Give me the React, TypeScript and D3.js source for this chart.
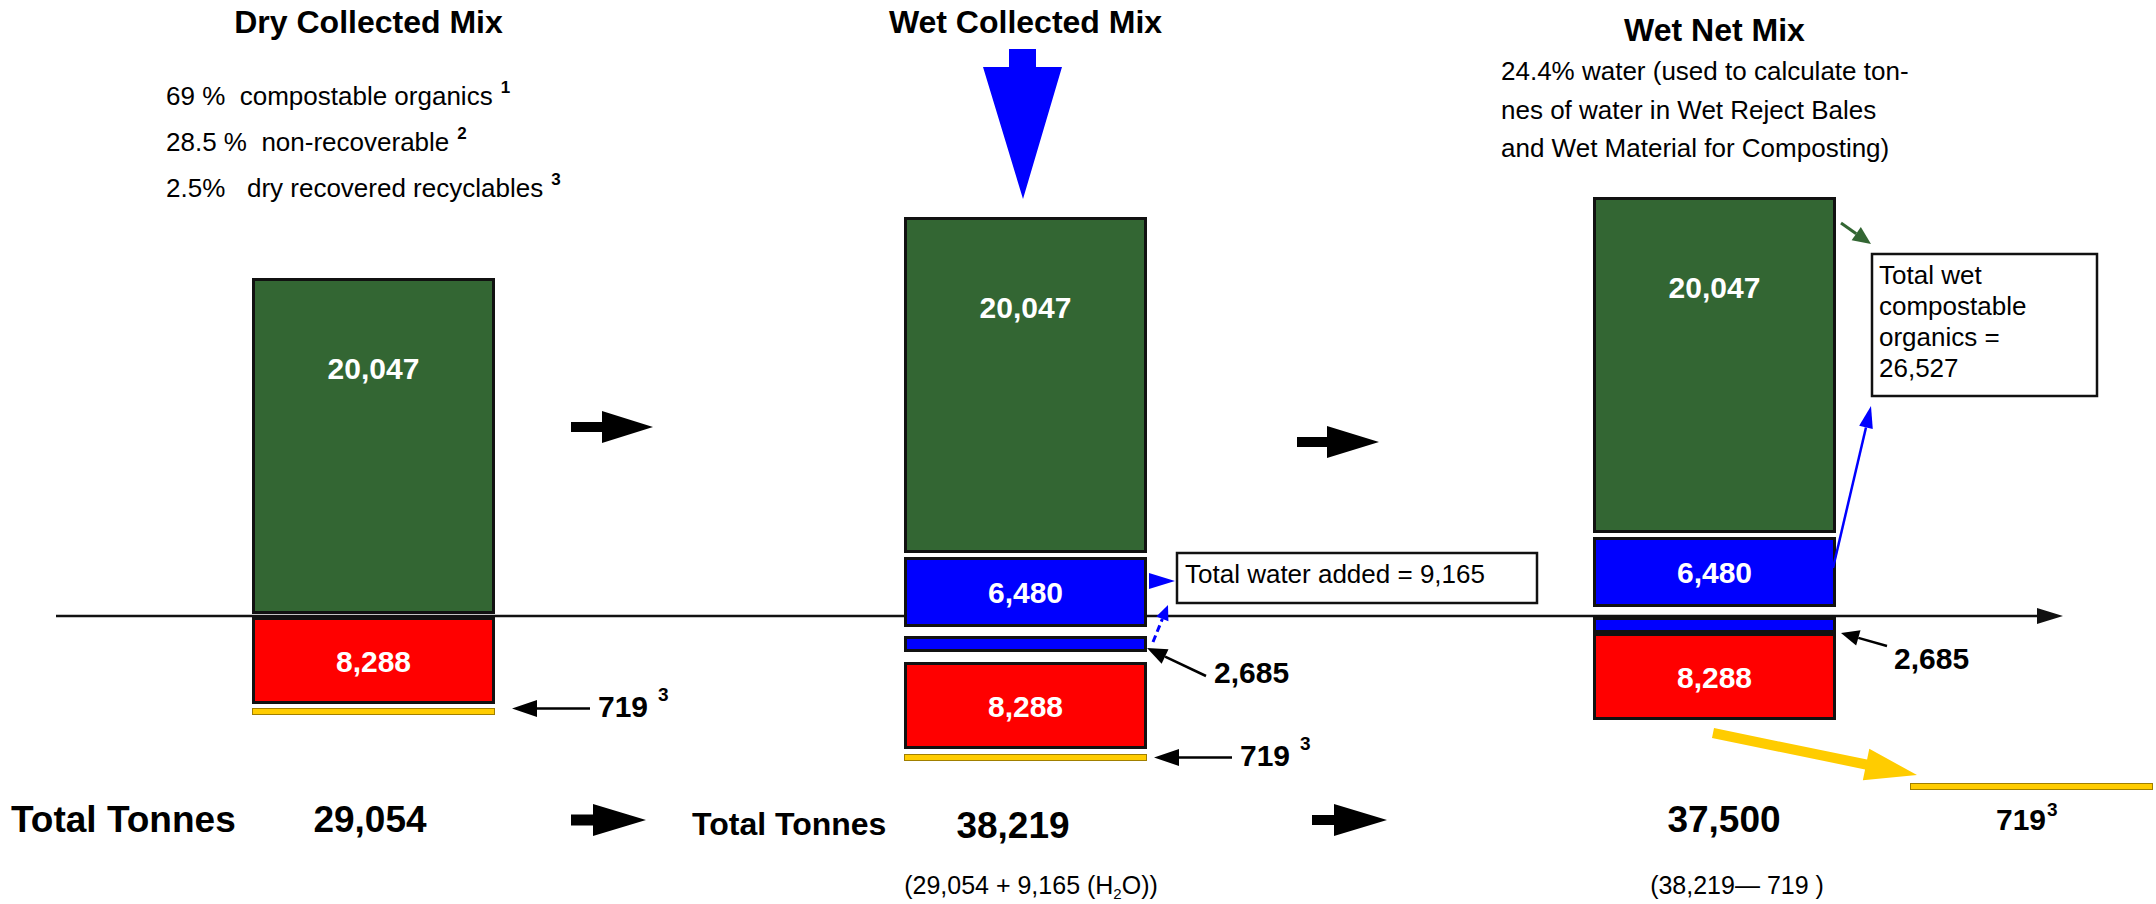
import React from "react";
import * as d3 from "d3";

// ---------- data ----------
const columns = ["Dry Collected Mix", "Wet Collected Mix", "Wet Net Mix"];
const compostable = [20047, 20047, 20047];
const waterAdded = [0, 6480, 6480];
const waterAbsorbed = [0, 2685, 2685];
const nonRecoverable = [8288, 8288, 8288];
const recyclables = [719, 719, 719];
const totals = [29054, 38219, 37500];
const waterTotal = 9165;
const wetCompostTotal = 26527;
const dryShares = [
  { pct: "69 %  ", label: "compostable organics", note: "1" },
  { pct: "28.5 %  ", label: "non-recoverable", note: "2" },
  { pct: "2.5%   ", label: "dry recovered recyclables", note: "3" },
];
const wetNetNote = [
  "24.4% water (used to calculate ton-",
  "nes of water in Wet Reject Bales",
  "and Wet Material for Composting)",
];
const totalLabel = "Total Tonnes";

// ---------- style / layout ----------
const W = 2156;
const H = 904;
const FONT = "'Liberation Sans', Arial, Helvetica, sans-serif";
const GREEN = "#336633";
const BLUE = "#0000FF";
const RED = "#FF0000";
const YELLOW = "#FFCC00";
const INK = "#111";
const AXIS_Y = 616;
const BAR_W = 243;

const fmt = d3.format(",");

// the diagram is drawn schematically (not to a single linear ratio)
const heightScale = d3
  .scaleLinear()
  .domain([0, recyclables[0], waterAbsorbed[1], waterAdded[1], nonRecoverable[0], compostable[0]])
  .range([0, 7, 16, 70, 87, 336]);

const xLeft = d3.scaleOrdinal<string, number>().domain(columns).range([252, 904, 1593]);
// bottom of the compostable block for each column, relative to the axis
const greenBaseOffset = [-2, -63, -83];
// gaps between stacked blocks below the compostable block
const gaps = [
  { blue: 0, small: 0, red: 3, yellow: 4 },
  { blue: 4, small: 9, red: 10, yellow: 5 },
  { blue: 4, small: 10, red: 0, yellow: 0 },
];

type Seg = { key: string; y: number; h: number; color: string; value: number; label: boolean };

function layoutColumn(i: number) {
  const segs: Seg[] = [];
  const base = AXIS_Y + greenBaseOffset[i];
  const gh = heightScale(compostable[i]);
  segs.push({ key: "green", y: base - gh, h: gh, color: GREEN, value: compostable[i], label: true });
  let y = base;
  if (waterAdded[i] > 0) {
    y += gaps[i].blue;
    const h = heightScale(waterAdded[i]);
    segs.push({ key: "blue", y, h, color: BLUE, value: waterAdded[i], label: true });
    y += h;
  }
  if (waterAbsorbed[i] > 0) {
    y += gaps[i].small;
    const h = heightScale(waterAbsorbed[i]);
    segs.push({ key: "small", y, h, color: BLUE, value: waterAbsorbed[i], label: false });
    y += h;
  }
  y += gaps[i].red;
  const rh = heightScale(nonRecoverable[i]);
  segs.push({ key: "red", y, h: rh, color: RED, value: nonRecoverable[i], label: true });
  y += rh;
  if (i < 2) {
    y += gaps[i].yellow;
    segs.push({ key: "yellow", y, h: heightScale(recyclables[i]), color: YELLOW, value: recyclables[i], label: false });
  }
  return segs;
}

function headPoints(x1: number, y1: number, x2: number, y2: number, len: number, half: number) {
  const a = Math.atan2(y2 - y1, x2 - x1);
  const bx = x2 - len * Math.cos(a);
  const by = y2 - len * Math.sin(a);
  const nx = -Math.sin(a);
  const ny = Math.cos(a);
  return {
    pts: `${x2},${y2} ${bx + nx * half},${by + ny * half} ${bx - nx * half},${by - ny * half}`,
    bx,
    by,
  };
}

function LineArrow(p: {
  x1: number; y1: number; x2: number; y2: number; color: string; width: number;
  len: number; half: number; dash?: string;
}) {
  const h = headPoints(p.x1, p.y1, p.x2, p.y2, p.len, p.half);
  return (
    <g>
      <line x1={p.x1} y1={p.y1} x2={h.bx} y2={h.by} stroke={p.color} strokeWidth={p.width} strokeDasharray={p.dash} />
      <polygon points={h.pts} fill={p.color} />
    </g>
  );
}

function blockArrow(x0: number, xh: number, x1: number, yc: number, sh: number, hh: number) {
  return `${x0},${yc - sh} ${xh},${yc - sh} ${xh},${yc - hh} ${x1},${yc} ${xh},${yc + hh} ${xh},${yc + sh} ${x0},${yc + sh}`;
}

function slantBlockArrow(x1: number, y1: number, x2: number, y2: number, sh: number, len: number, hh: number) {
  const a = Math.atan2(y2 - y1, x2 - x1);
  const nx = -Math.sin(a), ny = Math.cos(a);
  const bx = x2 - len * Math.cos(a), by = y2 - len * Math.sin(a);
  const p = [
    [x1 + nx * sh, y1 + ny * sh],
    [bx + nx * sh, by + ny * sh],
    [bx + nx * hh, by + ny * hh],
    [x2, y2],
    [bx - nx * hh, by - ny * hh],
    [bx - nx * sh, by - ny * sh],
    [x1 - nx * sh, y1 - ny * sh],
  ];
  return p.map((q) => q.join(",")).join(" ");
}

export default function App() {
  const cols = columns.map((c, i) => ({ name: c, x: xLeft(c), segs: layoutColumn(i) }));
  const find = (i: number, k: string) => cols[i].segs.find((s) => s.key === k)!;

  const y1 = find(0, "yellow");
  const y2 = find(1, "yellow");
  const s2 = find(1, "small");
  const s3 = find(2, "small");
  const r3 = find(2, "red");
  const x3 = cols[2].x;
  const yellow3H = heightScale(recyclables[2]);

  const bold = { fontFamily: FONT, fontWeight: 700 } as const;
  const reg = { fontFamily: FONT, fontWeight: 400 } as const;

  return (
    <svg width={W} height={H} style={{ position: "absolute", left: 0, top: 0, display: "block", background: "#fff" }}>
      <rect x={0} y={0} width={W} height={H} fill="#fff" />

      {/* titles */}
      {cols.map((c, i) => (
        <text key={c.name} x={c.x + BAR_W / 2 - (i === 0 ? 5 : 0)} y={i === 2 ? 41 : 33} textAnchor="middle" fontSize={32} {...bold} fill="#000">
          {c.name}
        </text>
      ))}

      {/* dry collected shares */}
      {dryShares.map((d, i) => (
        <text key={d.note} x={166} y={105 + i * 46} fontSize={26} {...reg} fill="#000" style={{ whiteSpace: "pre" }}>
          {d.pct + d.label}
          <tspan dx={8} dy={-12} fontSize={17} fontWeight={700}>{d.note}</tspan>
        </text>
      ))}

      {/* wet net note */}
      {wetNetNote.map((t, i) => (
        <text key={i} x={1501} y={80 + i * 38.5} fontSize={26} {...reg} fill="#000">
          {t}
        </text>
      ))}

      {/* blue water inflow arrow */}
      <polygon points="1009,49 1036,49 1036,67 1062,67 1023,199 983,67 1009,67" fill={BLUE} />

      {/* axis */}
      <line x1={56} y1={AXIS_Y} x2={2040} y2={AXIS_Y} stroke={INK} strokeWidth={2.5} />
      <polygon points={`2037,${AXIS_Y - 8} 2063,${AXIS_Y} 2037,${AXIS_Y + 8}`} fill={INK} />

      {/* bars */}
      {cols.map((c) =>
        c.segs.map((s) => (
          <g key={c.name + s.key}>
            <rect
              x={c.x + (s.key === "yellow" ? 0.5 : 1.5)}
              y={s.y + (s.key === "yellow" ? 0.5 : 1.5)}
              width={BAR_W - (s.key === "yellow" ? 1 : 3)}
              height={Math.max(1, s.h - (s.key === "yellow" ? 1 : 3))}
              fill={s.color}
              stroke={s.key === "yellow" ? "#a07f00" : INK}
              strokeWidth={s.key === "yellow" ? 1 : 3}
            />
            {s.label && (
              <text
                x={c.x + BAR_W / 2}
                y={s.key === "green" ? s.y + s.h * 0.3 : s.y + s.h / 2 + 11}
                textAnchor="middle"
                fontSize={30}
                {...bold}
                fill="#fff"
              >
                {fmt(s.value)}
              </text>
            )}
          </g>
        ))
      )}

      {/* flow arrows */}
      <polygon points={blockArrow(571, 602, 653, 427, 5, 16)} fill="#000" />
      <polygon points={blockArrow(1297, 1327, 1379, 442, 5, 16)} fill="#000" />
      <polygon points={blockArrow(571, 593, 646, 820, 5.5, 16)} fill="#000" />
      <polygon points={blockArrow(1312, 1334, 1387, 820, 5, 16)} fill="#000" />

      {/* 719 callouts, columns 1 & 2 */}
      {[{ s: y1, x: cols[0].x, v: recyclables[0] }, { s: y2, x: cols[1].x, v: recyclables[1] }].map((o, i) => {
        const ay = o.s.y + o.s.h / 2 - (i === 0 ? 3 : 0);
        const tip = o.x + BAR_W + (i === 0 ? 17 : 7);
        return (
          <g key={"c719" + i}>
            <LineArrow x1={tip + 78} y1={ay} x2={tip} y2={ay} color="#000" width={2.5} len={25} half={8.5} />
            <text x={tip + 86} y={ay + 8} fontSize={30} {...bold} fill="#000">
              {o.v}
              <tspan dx={10} dy={-16} fontSize={19}>3</tspan>
            </text>
          </g>
        );
      })}

      {/* water added box (column 2) */}
      <rect x={1177} y={553} width={360} height={50} fill="#fff" stroke={INK} strokeWidth={2.5} />
      <text x={1185} y={583} fontSize={26} {...reg} fill="#000">
        {"Total water added = " + fmt(waterTotal)}
      </text>
      <polygon points="1149,573 1175,581 1149,589" fill={BLUE} />
      <LineArrow x1={1153} y1={642} x2={1168} y2={605} color={BLUE} width={3} len={15} half={6.5} dash="7,4" />

      {/* 2,685 callouts */}
      <LineArrow x1={1206} y1={676} x2={cols[1].x + BAR_W} y2={s2.y + s2.h - 4} color="#000" width={2.5} len={20} half={8} />
      <text x={1214} y={683} fontSize={30} {...bold} fill="#000">{fmt(waterAbsorbed[1])}</text>
      <LineArrow x1={1887} y1={646} x2={x3 + BAR_W + 5} y2={s3.y + s3.h} color="#000" width={2.5} len={18} half={8} />
      <text x={1894} y={669} fontSize={30} {...bold} fill="#000">{fmt(waterAbsorbed[2])}</text>

      {/* total wet compostable box (column 3) */}
      <LineArrow x1={1841} y1={223} x2={1871} y2={244} color={GREEN} width={3} len={18} half={8} />
      <rect x={1872} y={254} width={225} height={142} fill="#fff" stroke={INK} strokeWidth={2.5} />
      {["Total wet", "compostable", "organics =", fmt(wetCompostTotal)].map((t, i) => (
        <text key={t} x={1879} y={284 + i * 31} fontSize={26} {...reg} fill="#000">{t}</text>
      ))}
      <LineArrow x1={x3 + BAR_W - 3} y1={568} x2={1871} y2={406} color={BLUE} width={2.5} len={22} half={7} />

      {/* recyclables leave the wet net mix */}
      <polygon points={slantBlockArrow(x3 + 120, r3.y + r3.h + 13, 1917, 775, 5, 52, 16)} fill={YELLOW} />
      <rect x={1910.5} y={783.5} width={BAR_W - 1} height={yellow3H - 1} fill={YELLOW} stroke="#a07f00" strokeWidth={1} />
      <text x={1996} y={830} fontSize={30} {...bold} fill="#000">
        {recyclables[2]}
        <tspan dx={1} dy={-14} fontSize={19}>3</tspan>
      </text>

      {/* totals */}
      <text x={11} y={832} fontSize={37} {...bold} fill="#000">{totalLabel}</text>
      <text x={370} y={832} textAnchor="middle" fontSize={37} {...bold} fill="#000">{fmt(totals[0])}</text>
      <text x={692} y={835} fontSize={32} {...bold} fill="#000">{totalLabel}</text>
      <text x={1013} y={838} textAnchor="middle" fontSize={37} {...bold} fill="#000">{fmt(totals[1])}</text>
      <text x={1724} y={832} textAnchor="middle" fontSize={37} {...bold} fill="#000">{fmt(totals[2])}</text>

      <text x={1031} y={894} textAnchor="middle" fontSize={25} {...reg} fill="#000">
        {`(${fmt(totals[0])} + ${fmt(waterTotal)} (H`}
        <tspan dy={5} fontSize={15}>2</tspan>
        <tspan dy={-5}>O))</tspan>
      </text>
      <text x={1737} y={894} textAnchor="middle" fontSize={25} {...reg} fill="#000" style={{ whiteSpace: "pre" }}>
        {`(${fmt(totals[1])}\u2014 ${recyclables[2]} )`}
      </text>
    </svg>
  );
}
